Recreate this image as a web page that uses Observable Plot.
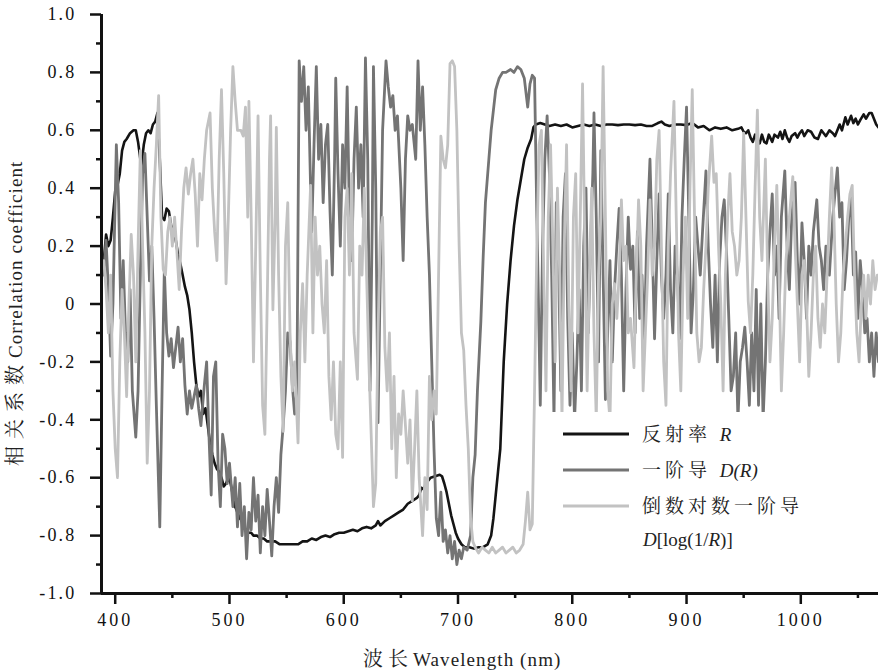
<!DOCTYPE html>
<html><head><meta charset="utf-8">
<script src="https://cdn.jsdelivr.net/npm/d3@7"></script>
<script src="https://cdn.jsdelivr.net/npm/@observablehq/plot@0.6"></script>
<style>
body{margin:0;background:#fff;}
#chart{width:878px;height:672px;}
#chart svg text, #chart svg tspan{font-family:"Liberation Serif","Noto Serif CJK SC",serif;}
#chart g[aria-label="y-axis tick label"] text{letter-spacing:2.2px;font-size:18px;}
#chart g[aria-label="x-axis tick label"] text{letter-spacing:3px;font-size:18px;}
</style></head><body><div id="chart"></div>
<script>
// ---- data (wavelength nm, correlation coefficient) ----
const reflectance = [[390,0.15],[392,0.24],[394,0.2],[396,0.22],[398,0.3],[400,0.39],[402,0.41],[404,0.45],[406,0.53],[408,0.56],[410,0.57],[413,0.59],[416,0.6],[418,0.6],[420,0.56],[422,0.5],[423,0.48],[425,0.55],[427,0.59],[429,0.6],[431,0.59],[433,0.62],[435,0.63],[437,0.66],[439,0.5],[441,0.3],[443,0.29],[445,0.33],[447,0.32],[449,0.27],[451,0.26],[453,0.22],[455,0.17],[457,0.14],[459,0.1],[461,0.06],[463,0.03],[465,-0.02],[467,-0.1],[469,-0.2],[471,-0.28],[473,-0.32],[475,-0.3],[477,-0.38],[479,-0.36],[481,-0.42],[483,-0.48],[485,-0.52],[487,-0.55],[489,-0.57],[491,-0.58],[493,-0.6],[495,-0.63],[497,-0.62],[499,-0.6],[501,-0.62],[503,-0.66],[505,-0.7],[507,-0.72],[509,-0.74],[511,-0.75],[513,-0.77],[515,-0.79],[517,-0.79],[519,-0.79],[521,-0.8],[524,-0.8],[527,-0.81],[530,-0.81],[533,-0.82],[536,-0.82],[540,-0.82],[544,-0.83],[548,-0.83],[552,-0.83],[556,-0.83],[560,-0.83],[564,-0.82],[568,-0.82],[572,-0.81],[576,-0.815],[580,-0.805],[584,-0.8],[588,-0.805],[592,-0.795],[596,-0.79],[600,-0.79],[604,-0.785],[608,-0.78],[612,-0.785],[616,-0.775],[620,-0.77],[624,-0.775],[628,-0.765],[630,-0.75],[632,-0.765],[636,-0.75],[640,-0.74],[644,-0.73],[648,-0.72],[652,-0.71],[656,-0.69],[660,-0.68],[664,-0.67],[666,-0.66],[668,-0.635],[670,-0.64],[672,-0.62],[676,-0.6],[680,-0.595],[684,-0.59],[686,-0.595],[688,-0.62],[690,-0.65],[692,-0.69],[694,-0.73],[696,-0.76],[698,-0.79],[700,-0.81],[703,-0.83],[706,-0.84],[710,-0.84],[714,-0.845],[718,-0.84],[722,-0.84],[726,-0.83],[729,-0.8],[731,-0.74],[733,-0.66],[735,-0.58],[737,-0.5],[740,-0.2],[743,0.0],[746,0.15],[749,0.27],[752,0.36],[755,0.43],[758,0.5],[761,0.54],[764,0.57],[766,0.61],[768,0.62],[772,0.625],[776,0.62],[780,0.615],[785,0.62],[790,0.615],[795,0.62],[800,0.61],[805,0.615],[810,0.62],[815,0.615],[820,0.62],[825,0.615],[830,0.62],[835,0.62],[840,0.618],[845,0.62],[850,0.62],[855,0.618],[860,0.62],[865,0.615],[870,0.615],[875,0.625],[878,0.63],[881,0.62],[885,0.615],[890,0.62],[895,0.62],[900,0.618],[905,0.625],[910,0.61],[915,0.615],[920,0.6],[925,0.61],[930,0.605],[935,0.61],[940,0.6],[945,0.605],[948,0.61],[950,0.595],[952,0.59],[954,0.6],[956,0.575],[958,0.56],[960,0.585],[962,0.565],[964,0.555],[966,0.585],[968,0.56],[970,0.555],[972,0.585],[975,0.56],[977,0.585],[980,0.575],[982,0.595],[984,0.57],[986,0.6],[988,0.575],[990,0.56],[992,0.58],[995,0.59],[997,0.575],[999,0.59],[1001,0.6],[1003,0.58],[1006,0.6],[1009,0.595],[1012,0.575],[1015,0.57],[1018,0.6],[1020,0.59],[1022,0.58],[1025,0.6],[1028,0.59],[1030,0.58],[1034,0.62],[1036,0.6],[1039,0.645],[1041,0.62],[1044,0.65],[1046,0.625],[1048,0.64],[1050,0.62],[1052,0.635],[1055,0.655],[1057,0.64],[1060,0.66],[1062,0.66],[1064,0.64],[1066,0.62],[1068,0.61]];

const firstDerivative = [[390,0.1],[392,0.22],[394,0.05],[396,-0.18],[398,0.0],[401,0.55],[403,0.35],[405,-0.05],[407,0.15],[409,-0.1],[411,-0.2],[413,0.05],[415,-0.3],[418,-0.46],[420,-0.3],[422,0.1],[424,0.45],[426,0.52],[428,0.3],[430,0.08],[432,0.2],[434,-0.05],[436,-0.35],[439,-0.77],[441,-0.3],[443,0.12],[445,-0.1],[447,-0.18],[449,-0.12],[451,-0.22],[453,-0.15],[455,-0.08],[457,-0.2],[459,-0.12],[461,-0.28],[463,-0.38],[465,-0.3],[467,-0.36],[469,-0.32],[471,-0.28],[473,-0.36],[475,-0.42],[478,-0.28],[480,-0.2],[482,-0.45],[484,-0.66],[486,-0.25],[488,-0.2],[490,-0.55],[492,-0.7],[494,-0.45],[496,-0.5],[498,-0.62],[500,-0.55],[503,-0.7],[505,-0.6],[507,-0.77],[509,-0.62],[511,-0.8],[513,-0.7],[515,-0.88],[517,-0.72],[519,-0.78],[521,-0.6],[523,-0.75],[525,-0.66],[527,-0.86],[529,-0.7],[531,-0.8],[533,-0.64],[535,-0.75],[537,-0.87],[539,-0.7],[541,-0.6],[543,-0.72],[545,-0.52],[547,-0.42],[549,-0.3],[551,-0.1],[553,-0.13],[555,-0.28],[557,-0.38],[559,-0.3],[561,0.84],[563,0.7],[565,0.82],[567,0.6],[569,0.75],[571,0.4],[572,0.25],[574,0.55],[576,0.82],[578,0.5],[580,0.62],[582,0.35],[584,0.55],[586,0.62],[588,0.32],[590,0.1],[592,0.5],[593,0.78],[595,0.45],[597,0.2],[599,0.55],[601,0.4],[603,0.75],[605,0.3],[607,0.15],[609,0.5],[611,0.68],[613,0.4],[615,0.55],[617,0.3],[619,0.85],[621,0.5],[623,-0.3],[625,0.3],[626,0.82],[628,0.4],[630,-0.41],[632,0.1],[634,0.6],[637,0.84],[639,0.75],[641,0.68],[643,0.72],[645,0.6],[647,0.65],[650,0.4],[652,0.15],[654,0.5],[656,0.65],[658,0.6],[660,0.62],[663,0.5],[665,0.84],[667,0.6],[669,0.75],[671,0.55],[673,0.3],[675,0.1],[677,-0.2],[679,-0.5],[681,-0.74],[683,-0.8],[685,-0.65],[687,-0.82],[689,-0.78],[691,-0.86],[693,-0.8],[695,-0.88],[697,-0.82],[699,-0.9],[701,-0.85],[703,-0.88],[705,-0.84],[708,-0.85],[711,-0.8],[713,-0.6],[715,-0.52],[717,-0.3],[720,-0.06],[722,0.16],[724,0.35],[727,0.5],[729,0.6],[731,0.67],[733,0.74],[736,0.78],[739,0.8],[742,0.8],[746,0.81],[749,0.8],[752,0.82],[755,0.81],[758,0.78],[761,0.68],[763,0.76],[765,0.79],[767,0.78],[769,0.3],[770,0.1],[772,-0.35],[774,0.2],[776,0.5],[778,0.65],[780,0.45],[782,0.1],[784,-0.4],[786,0.35],[788,0.15],[790,-0.3],[792,0.3],[794,0.45],[796,-0.05],[798,-0.35],[800,-0.1],[802,-0.4],[804,-0.2],[806,0.05],[808,-0.3],[810,0.2],[812,0.4],[814,-0.1],[816,0.2],[818,0.45],[819,0.66],[821,0.3],[823,-0.2],[825,0.53],[827,0.1],[829,-0.33],[831,-0.1],[833,0.15],[835,-0.2],[837,0.05],[839,0.2],[841,0.33],[843,0.1],[845,-0.3],[847,0.05],[849,0.3],[851,0.12],[853,0.2],[855,-0.1],[857,0.25],[859,-0.05],[861,0.1],[863,-0.15],[865,0.2],[868,0.5],[870,0.2],[872,-0.12],[874,0.15],[876,0.38],[878,0.1],[880,-0.05],[882,0.1],[884,0.38],[886,0.05],[888,-0.1],[890,0.2],[892,0.1],[894,-0.12],[896,0.3],[898,0.5],[900,0.68],[902,0.3],[904,-0.1],[906,0.05],[908,0.3],[910,0.2],[912,0.1],[914,0.25],[917,0.46],[919,0.2],[921,0.0],[923,-0.15],[925,0.1],[927,-0.2],[929,0.15],[931,0.3],[933,0.36],[935,0.18],[937,-0.05],[939,-0.3],[941,-0.25],[943,-0.1],[945,-0.4],[947,-0.2],[949,-0.15],[951,-0.08],[953,-0.2],[955,-0.35],[957,-0.1],[959,-0.3],[961,0.05],[963,-0.35],[965,0.0],[967,-0.4],[969,-0.2],[971,0.1],[973,0.25],[975,0.38],[977,0.1],[979,0.2],[981,-0.05],[983,0.3],[986,0.46],[988,0.2],[990,0.05],[992,0.3],[995,0.42],[997,0.15],[999,0.0],[1001,0.28],[1003,0.15],[1005,-0.05],[1007,0.2],[1009,0.1],[1011,0.25],[1014,0.36],[1016,0.2],[1018,0.15],[1020,0.05],[1022,0.2],[1025,0.1],[1028,0.3],[1032,0.47],[1034,0.3],[1036,0.35],[1038,0.05],[1040,0.15],[1042,0.3],[1044,0.38],[1046,0.1],[1048,0.18],[1050,-0.05],[1052,0.15],[1054,0.05],[1056,-0.1],[1058,-0.05],[1060,-0.2],[1062,-0.1],[1064,-0.25],[1066,-0.1],[1068,-0.2]];

const logDerivative = [[390,0.15],[392,0.05],[394,-0.1],[396,0.1],[398,-0.3],[400,-0.5],[402,-0.6],[404,-0.2],[406,0.05],[408,-0.1],[410,-0.32],[412,0.0],[414,0.24],[416,0.1],[418,-0.2],[420,0.2],[422,0.53],[424,0.2],[426,-0.1],[428,-0.55],[430,-0.3],[432,0.2],[434,0.4],[436,0.55],[438,0.72],[440,0.3],[442,0.12],[444,0.1],[446,0.25],[448,0.3],[450,0.2],[452,0.3],[454,0.18],[456,0.05],[458,0.25],[460,0.4],[462,0.47],[464,0.38],[466,0.45],[468,0.5],[470,0.38],[472,0.2],[474,0.45],[476,0.36],[478,0.5],[480,0.6],[483,0.66],[485,0.4],[487,0.25],[489,0.15],[491,0.5],[493,0.74],[495,0.45],[497,0.07],[499,0.3],[501,0.6],[503,0.82],[505,0.7],[507,0.6],[510,0.6],[512,0.58],[514,0.68],[516,0.3],[517,0.7],[519,0.3],[521,-0.2],[523,0.2],[525,0.65],[527,0.1],[529,-0.35],[531,-0.45],[533,0.0],[535,0.5],[536,0.65],[538,-0.02],[540,0.3],[541,0.61],[543,0.1],[545,-0.25],[547,-0.44],[549,0.2],[551,0.35],[553,-0.1],[555,-0.3],[557,-0.2],[560,-0.48],[562,-0.1],[564,0.07],[566,-0.2],[568,0.1],[571,0.41],[573,-0.1],[575,0.3],[577,0.1],[579,0.2],[581,0.0],[583,-0.1],[585,0.15],[587,-0.25],[589,-0.4],[591,-0.2],[593,-0.45],[595,-0.5],[597,-0.2],[599,-0.53],[601,0.3],[603,0.4],[605,0.1],[607,0.45],[609,-0.1],[612,-0.26],[614,0.2],[616,0.1],[618,0.4],[620,0.1],[622,-0.2],[624,-0.45],[626,-0.7],[628,-0.62],[630,-0.1],[632,0.25],[634,0.3],[636,-0.15],[638,-0.3],[640,-0.1],[642,-0.5],[644,-0.25],[646,-0.6],[648,-0.38],[650,-0.45],[652,-0.3],[654,-0.42],[656,-0.55],[658,-0.4],[660,-0.68],[662,-0.5],[664,-0.3],[666,-0.6],[669,-0.8],[671,-0.6],[673,-0.71],[675,-0.25],[677,-0.4],[679,-0.3],[681,-0.38],[683,0.1],[685,0.58],[687,0.5],[689,0.47],[691,0.55],[693,0.83],[695,0.84],[697,0.82],[699,0.6],[701,0.2],[703,-0.1],[705,-0.16],[707,-0.35],[709,-0.5],[711,-0.74],[713,-0.82],[715,-0.84],[718,-0.86],[721,-0.84],[724,-0.85],[727,-0.86],[730,-0.84],[733,-0.86],[736,-0.85],[739,-0.84],[742,-0.86],[745,-0.85],[748,-0.84],[751,-0.86],[754,-0.85],[757,-0.83],[759,-0.75],[761,-0.65],[763,-0.78],[765,-0.76],[767,-0.3],[769,0.2],[771,0.55],[773,0.6],[775,0.1],[777,-0.3],[779,0.3],[781,0.55],[783,0.2],[785,-0.2],[787,0.4],[789,0.1],[791,-0.4],[793,0.2],[795,0.55],[797,0.0],[799,-0.3],[801,0.3],[803,0.45],[805,-0.1],[807,0.3],[809,0.76],[811,0.2],[813,-0.3],[815,0.1],[817,0.4],[819,-0.1],[821,-0.4],[823,0.1],[825,0.3],[827,0.82],[829,0.3],[831,-0.3],[833,-0.4],[835,0.0],[837,0.07],[839,-0.05],[841,0.1],[843,0.36],[845,0.15],[847,0.2],[849,-0.1],[851,-0.05],[854,-0.22],[856,0.1],[858,0.36],[860,0.2],[862,-0.3],[864,-0.1],[866,0.1],[868,0.36],[870,0.1],[872,0.2],[874,0.5],[876,0.6],[878,0.2],[880,-0.2],[882,-0.35],[884,0.2],[886,0.45],[889,0.7],[891,0.3],[893,-0.1],[895,-0.3],[897,0.1],[899,0.3],[901,-0.05],[903,0.4],[905,0.74],[907,0.3],[909,-0.1],[911,-0.2],[913,-0.15],[915,0.05],[917,0.2],[919,0.4],[922,0.58],[924,0.42],[926,0.45],[928,0.2],[930,0.0],[932,-0.3],[934,0.1],[936,0.3],[938,0.45],[940,0.25],[942,0.2],[944,0.1],[946,0.15],[948,0.3],[950,0.59],[952,0.3],[954,0.01],[956,-0.1],[958,0.1],[960,0.4],[962,0.67],[964,0.3],[966,0.15],[969,0.5],[971,0.1],[973,-0.2],[975,-0.05],[977,0.2],[979,0.41],[981,0.1],[983,-0.3],[985,-0.1],[987,0.15],[990,0.3],[993,0.44],[995,0.2],[997,0.0],[999,-0.2],[1001,0.1],[1003,0.15],[1005,0.0],[1007,-0.25],[1009,-0.1],[1011,0.1],[1013,0.2],[1015,-0.05],[1017,-0.15],[1019,0.0],[1021,-0.1],[1023,0.1],[1025,0.3],[1027,0.47],[1029,0.3],[1031,0.0],[1033,-0.2],[1035,-0.1],[1037,0.1],[1039,0.2],[1041,0.3],[1043,0.38],[1045,0.41],[1047,0.1],[1049,-0.1],[1051,-0.2],[1053,0.0],[1055,0.1],[1057,-0.05],[1059,0.1],[1061,0.0],[1063,0.15],[1065,0.05],[1067,0.1]];

const yTicks = [-1, -0.8, -0.6, -0.4, -0.2, 0, 0.2, 0.4, 0.6, 0.8, 1];
const yTickLabels = ["-1.0", "-0.8", "-0.6", "-0.4", "-0.2", "0", "0.2", "0.4", "0.6", "0.8", "1.0"];
const yMinorTicks = [-0.9, -0.7, -0.5, -0.3, -0.1, 0.1, 0.3, 0.5, 0.7, 0.9];
const xTicks = [400, 500, 600, 700, 800, 900, 1000];
const xMinorTicks = [450, 550, 650, 750, 850, 950, 1050];
const xLabelParts = ["波长", "Wavelength (nm)"];
const yLabelParts = ["相关系数", "Correlation coefficient"];
const seriesColors = ["#141414", "#747474", "#c2c2c2"];

const serif = "Liberation Serif, Noto Serif CJK SC, serif";
const wl = d => d[0], val = d => d[1];

const plot = Plot.plot({
  width: 878, height: 672,
  marginLeft: 101, marginRight: 0, marginTop: 14, marginBottom: 79,
  x: {domain: [388, 1068]},
  y: {domain: [-1, 1]},
  style: {fontFamily: serif, fontSize: "18px", color: "#111", background: "#fff", overflow: "visible"},
  marks: [
    Plot.line(reflectance, {x: wl, y: val, stroke: seriesColors[0], strokeWidth: 2.6, strokeLinejoin: "round"}),
    Plot.line(firstDerivative, {x: wl, y: val, stroke: seriesColors[1], strokeWidth: 2.8, strokeLinejoin: "round"}),
    Plot.line(logDerivative, {x: wl, y: val, stroke: seriesColors[2], strokeWidth: 2.8, strokeLinejoin: "round"}),
    Plot.axisY(yTicks, {tickSize: 11, tickPadding: 14, strokeWidth: 2.5, stroke: "#111", label: null, fontSize: 18,
      tickFormat: d => yTickLabels[yTicks.indexOf(d)]}),
    Plot.axisY(yMinorTicks, {tickSize: 5, strokeWidth: 2.5, stroke: "#111", label: null, tickFormat: () => ""}),
    Plot.axisX(xTicks, {tickSize: 11, tickPadding: 9, strokeWidth: 2.5, stroke: "#111", label: null, fontSize: 18,
      tickFormat: d => String(d)}),
    Plot.axisX(xMinorTicks, {tickSize: 5, strokeWidth: 2.5, stroke: "#111", label: null, tickFormat: () => ""}),
    Plot.ruleX([388], {stroke: "#111", strokeWidth: 3}),
    Plot.ruleY([-1], {stroke: "#111", strokeWidth: 3})
  ]
});

const svg = d3.select(plot);

// axis titles (mixed CJK / Latin runs)
const xl = svg.append("text").attr("x", 363).attr("y", 666).attr("text-anchor", "start").attr("fill", "#222");
xl.append("tspan").attr("font-size", 20).attr("letter-spacing", "5px").text(xLabelParts[0]);
xl.append("tspan").attr("font-size", 19).attr("letter-spacing", "1.1px").text(xLabelParts[1]);
const yl = svg.append("text").attr("transform", "translate(22,466) rotate(-90)").attr("text-anchor", "start").attr("fill", "#222");
yl.append("tspan").attr("font-size", 20).attr("letter-spacing", "7px").text(yLabelParts[0]);
yl.append("tspan").attr("font-size", 19).attr("letter-spacing", "1.1px").text(yLabelParts[1]);

// legend (white box over the lower-right plot area)
const lg = svg.append("g").attr("font-size", 19).attr("fill", "#222").attr("text-anchor", "start");
lg.append("rect").attr("x", 549).attr("y", 412).attr("width", 329).attr("height", 178).attr("fill", "#fff");
const rowsY = [434, 470, 506];
rowsY.forEach((y, i) => {
  lg.append("line").attr("x1", 563).attr("x2", 629).attr("y1", y).attr("y2", y)
    .attr("stroke", seriesColors[i]).attr("stroke-width", 3.2);
});
const t1 = lg.append("text").attr("x", 642).attr("y", 441);
t1.append("tspan").attr("letter-spacing", "4px").text("反射率 ");
t1.append("tspan").attr("font-style", "italic").text("R");
const t2 = lg.append("text").attr("x", 642).attr("y", 477);
t2.append("tspan").attr("letter-spacing", "4px").text("一阶导 ");
t2.append("tspan").attr("font-style", "italic").text("D(R)");
lg.append("text").attr("x", 642).attr("y", 513).attr("letter-spacing", "4px").text("倒数对数一阶导");
const t4 = lg.append("text").attr("x", 643).attr("y", 546);
t4.append("tspan").attr("font-style", "italic").text("D");
t4.append("tspan").text("[log(1/");
t4.append("tspan").attr("font-style", "italic").text("R");
t4.append("tspan").text(")]");

document.getElementById("chart").appendChild(plot);
</script>
</body></html>
